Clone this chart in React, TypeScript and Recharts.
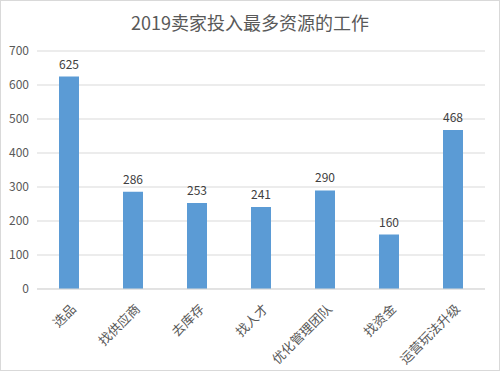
import { BarChart, Bar, XAxis, YAxis, CartesianGrid, LabelList } from 'recharts';

const categories = ['选品', '找供应商', '去库存', '找人才', '优化管理团队', '找资金', '运营玩法升级'];
const values = [625, 286, 253, 241, 290, 160, 468];
const yTicks = [0, 100, 200, 300, 400, 500, 600, 700];

const data = categories.map((name, i) => ({ name, value: values[i] }));

const font = '"Noto Sans CJK SC", "Noto Sans", sans-serif';

function AngledTick(props: any) {
  const { x, y, payload } = props;
  return (
    <g transform={`translate(${x + 5},${y + 10})`}>
      <text
        x={0}
        y={0}
        dy={4}
        textAnchor="end"
        transform="rotate(-45)"
        fill="#595959"
        fontSize={13}
        fontFamily={font}
      >
        {payload.value}
      </text>
    </g>
  );
}

export default function App() {
  return (
    <div>
      <style>{`body{margin:0}`}</style>
      <div
        style={{
          position: 'relative',
          width: 500,
          height: 371,
          boxSizing: 'border-box',
          border: '1px solid #d9d9d9',
          background: '#fff',
        }}
      >
        <div
          style={{
            position: 'absolute',
            top: 8,
            left: 0,
            width: '100%',
            textAlign: 'center',
            fontFamily: font,
            fontSize: 18,
            color: '#595959',
          }}
        >
          2019卖家投入最多资源的工作
        </div>
        <div style={{ position: 'absolute', left: -1, top: -1 }}>
          <BarChart
            width={500}
            height={371}
            data={data}
            margin={{ top: 51, right: 15, bottom: 0, left: 0 }}
            barSize={20}
          >
            <CartesianGrid vertical={false} stroke="#d9d9d9" />
            <XAxis
              dataKey="name"
              interval={0}
              height={82}
              tickLine={false}
              axisLine={{ stroke: '#d9d9d9' }}
              tick={<AngledTick />}
            />
            <YAxis
              width={37}
              domain={[0, 700]}
              ticks={yTicks}
              axisLine={false}
              tickLine={false}
              tick={{ fill: '#595959', fontSize: 12, fontFamily: font }}
            />
            <Bar dataKey="value" fill="#5b9bd5" isAnimationActive={false}>
              <LabelList
                dataKey="value"
                position="top"
                offset={8}
                fill="#404040"
                fontSize={12}
                fontFamily={font}
              />
            </Bar>
          </BarChart>
        </div>
      </div>
    </div>
  );
}
